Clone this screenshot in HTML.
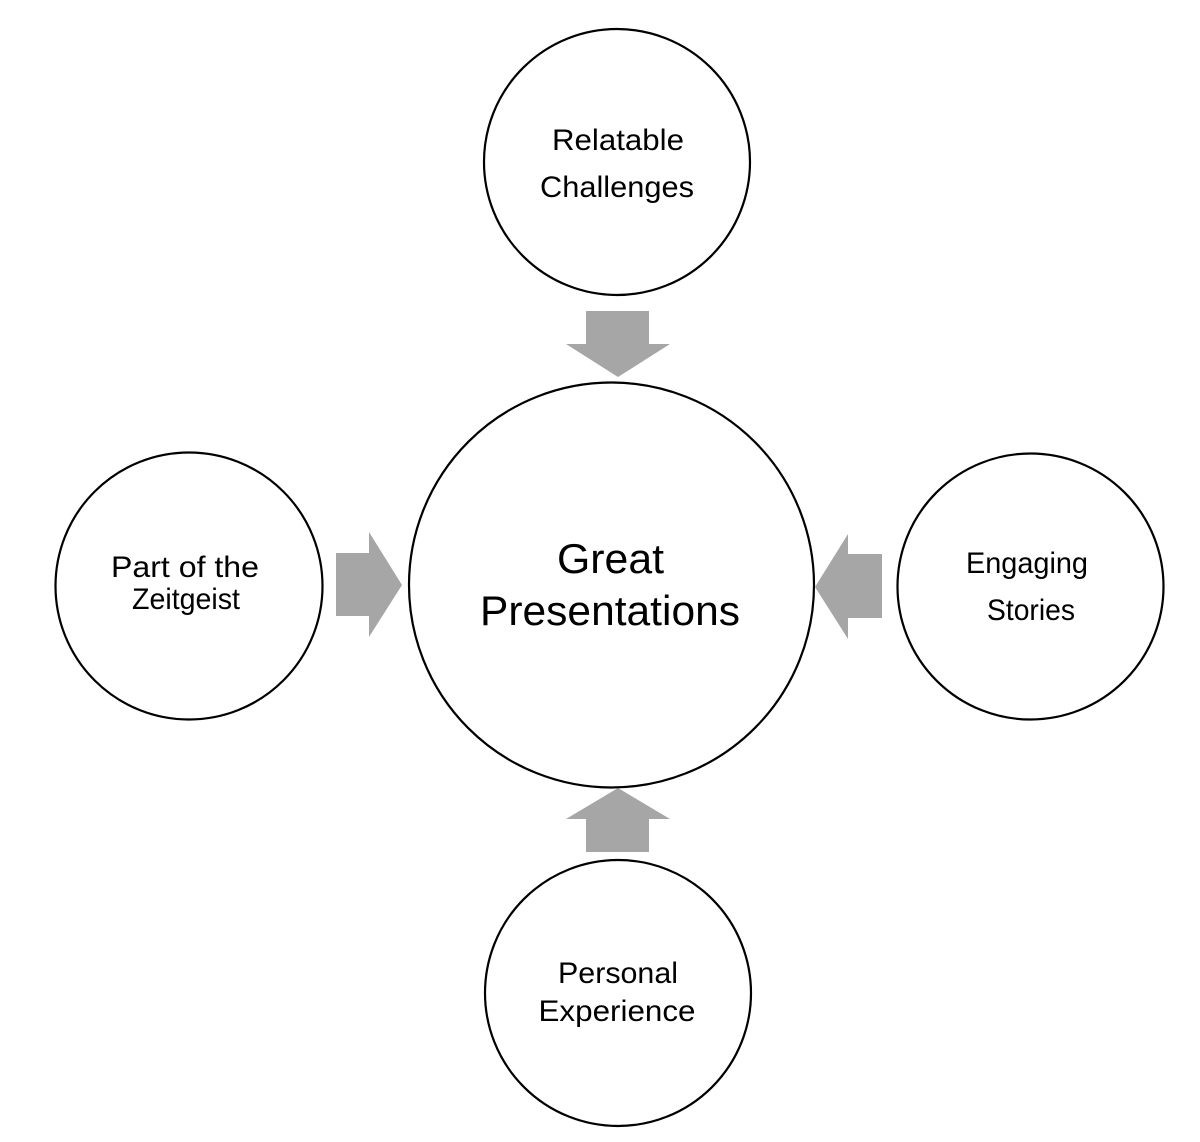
<!DOCTYPE html>
<html>
<head>
<meta charset="utf-8">
<style>
  html, body { margin: 0; padding: 0; background: #ffffff; }
  svg { display: block; }
  text { font-family: "Liberation Sans", sans-serif; fill: #000; }
</style>
</head>
<body>
<svg width="1200" height="1142" viewBox="0 0 1200 1142" xmlns="http://www.w3.org/2000/svg">
  <rect x="0" y="0" width="1200" height="1142" fill="#ffffff"/>

  <!-- Arrows -->
  <g fill="#a6a6a6">
    <!-- top, pointing down -->
    <polygon points="586,311 649,311 649,344 670,344 618,377 566,344 586,344"/>
    <!-- bottom, pointing up -->
    <polygon points="586,852 649,852 649,819 670,819 618,788 566,819 586,819"/>
    <!-- left, pointing right -->
    <polygon points="336,553 369,553 369,532 402,585 369,637 369,616 336,616"/>
    <!-- right, pointing left -->
    <polygon points="882,554 848,554 848,534 815,587 848,639 848,618 882,618"/>
  </g>

  <!-- Circles -->
  <g fill="#ffffff" stroke="#000000" stroke-width="2.2">
    <circle cx="617" cy="162" r="133"/>
    <circle cx="611.5" cy="585" r="202.5"/>
    <circle cx="189" cy="586" r="133.5"/>
    <circle cx="1030.5" cy="586.5" r="133"/>
    <circle cx="618" cy="993" r="133"/>
  </g>

  <!-- Labels -->
  <g font-size="30" text-anchor="middle">
    <text x="618" y="150" textLength="132" lengthAdjust="spacingAndGlyphs">Relatable</text>
    <text x="617" y="197" textLength="154" lengthAdjust="spacingAndGlyphs">Challenges</text>

    <text x="185" y="577" textLength="148" lengthAdjust="spacingAndGlyphs">Part of the</text>
    <text x="186" y="609" textLength="108" lengthAdjust="spacingAndGlyphs">Zeitgeist</text>

    <text x="1027" y="573" textLength="122" lengthAdjust="spacingAndGlyphs">Engaging</text>
    <text x="1031" y="620" textLength="88" lengthAdjust="spacingAndGlyphs">Stories</text>

    <text x="618" y="983" textLength="120" lengthAdjust="spacingAndGlyphs">Personal</text>
    <text x="617" y="1021" textLength="157" lengthAdjust="spacingAndGlyphs">Experience</text>
  </g>
  <g font-size="42" text-anchor="middle">
    <text x="610.5" y="573" textLength="107" lengthAdjust="spacingAndGlyphs">Great</text>
    <text x="610" y="625" textLength="260" lengthAdjust="spacingAndGlyphs">Presentations</text>
  </g>
</svg>
</body>
</html>
